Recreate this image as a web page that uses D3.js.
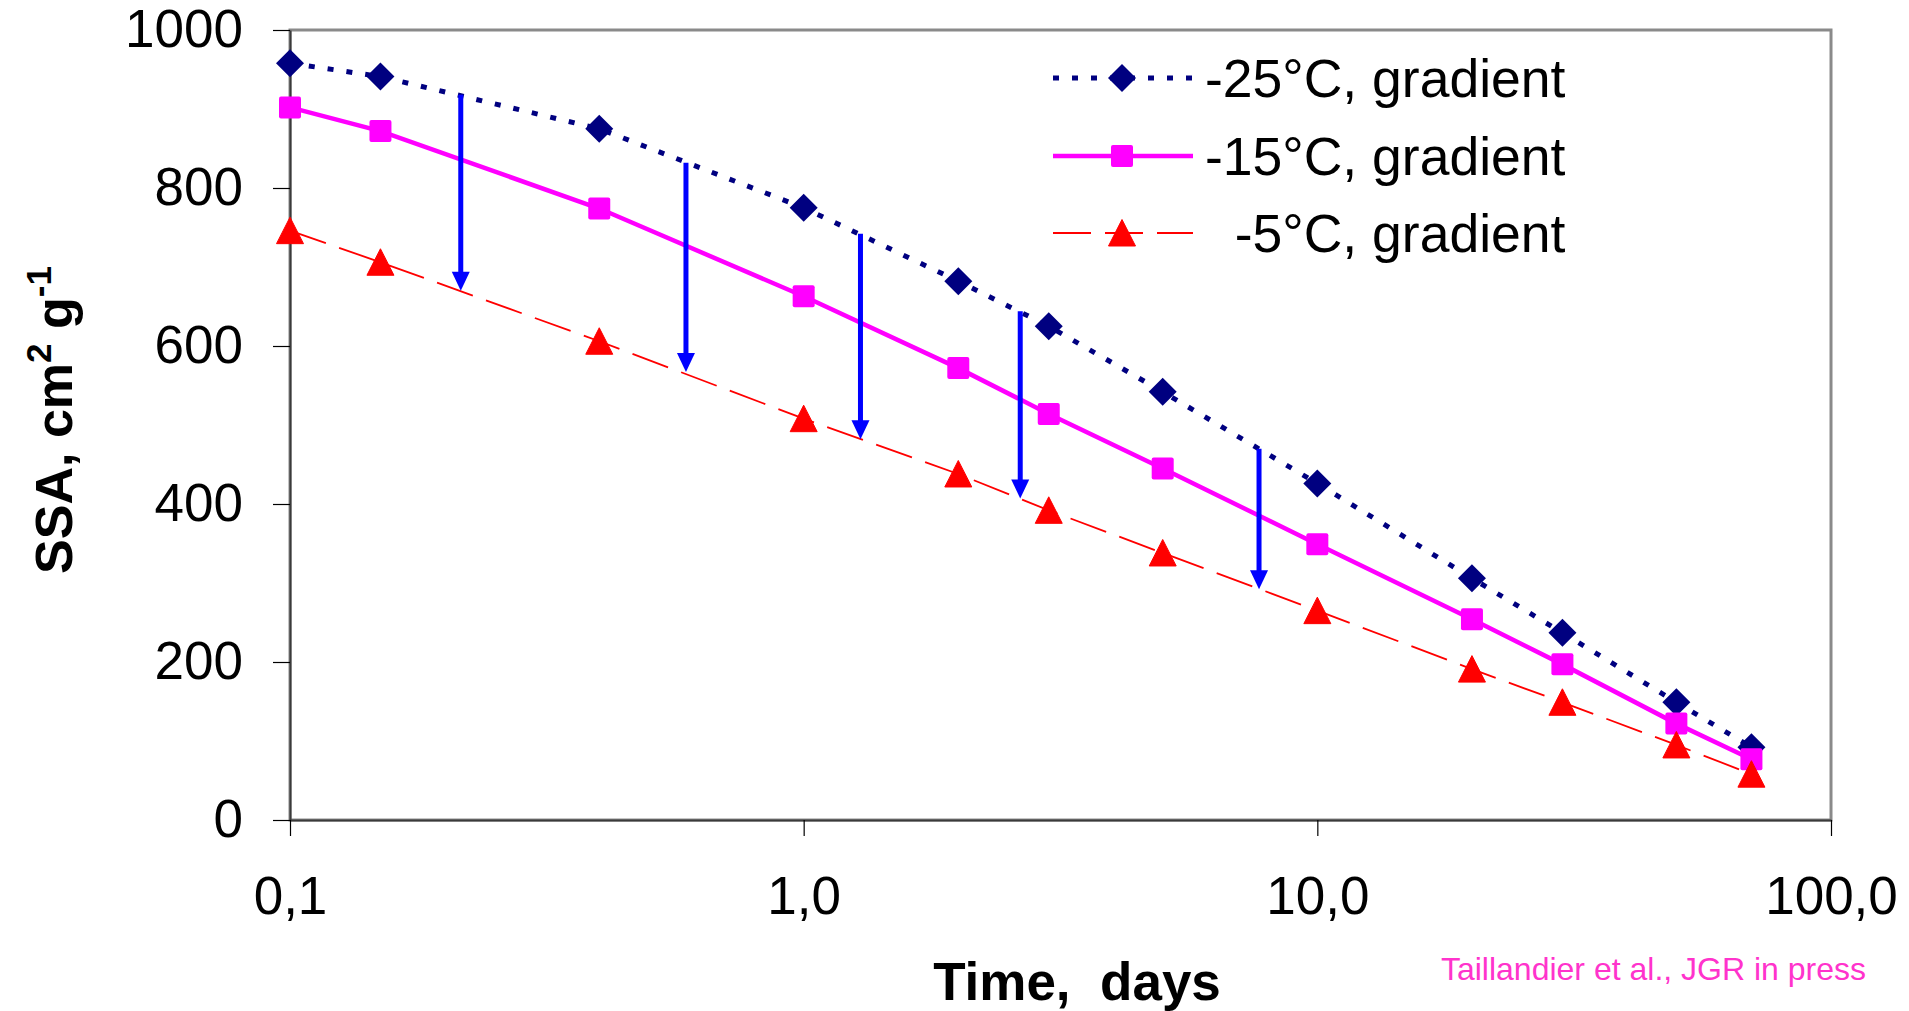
<!DOCTYPE html>
<html>
<head>
<meta charset="utf-8">
<script src="https://cdn.jsdelivr.net/npm/d3@7"></script>
<style>
  body { margin: 0; background: #fff; }
  text { font-family: "Liberation Sans", Arial, sans-serif; }
</style>
</head>
<body>
<div id="chart"></div>
<script>
// time in days (log axis)
var days = [0.1, 0.15, 0.4, 1, 2, 3, 5, 10, 20, 30, 50, 70];

// SSA, cm2 g-1
var ssa25 = [958, 941, 875, 775, 682, 625, 542, 426, 306, 237, 149, 92];
var ssa15 = [902, 872, 774, 663, 572, 514, 445, 349, 254, 197, 122, 77];
var ssa5  = [746, 706, 606, 508, 438, 392, 338, 265, 191, 149, 95, 58];

var seriesNames = ["-25°C, gradient", "-15°C, gradient", "  -5°C, gradient"];

// blue arrows between -25 and -5 curves
var arrowDays = [0.215, 0.59, 1.29, 2.64, 7.7];
var arrowTop = [918, 832, 742, 644, 470];
var arrowBottom = [670, 567, 482, 407, 292];

var xTicks = [0.1, 1, 10, 100];
var yTicks = [0, 200, 400, 600, 800, 1000];

var width = 1909, height = 1011;
var margin = {top: 30, right: 78, bottom: 191, left: 290};

var svg = d3.select("#chart").append("svg")
    .attr("width", width)
    .attr("height", height);

svg.append("rect").attr("width", width).attr("height", height).attr("fill", "#fff");

var x = d3.scaleLog()
    .domain([0.1, 100])
    .range([margin.left, width - margin.right]);

var y = d3.scaleLinear()
    .domain([0, 1000])
    .range([height - margin.bottom, margin.top]);

var locale = d3.formatLocale({decimal: ",", thousands: ".", grouping: [3], currency: ["", ""]});
var fmtX = locale.format(".1f");

// plot area frame
svg.append("rect")
    .attr("x", x(0.1)).attr("y", y(1000))
    .attr("width", x(100) - x(0.1))
    .attr("height", y(0) - y(1000))
    .attr("fill", "none")
    .attr("stroke", "#8a8a8a")
    .attr("stroke-width", 3);

// axes
var yAxis = svg.append("g")
    .attr("transform", "translate(" + x(0.1) + ",0)")
    .call(d3.axisLeft(y).tickValues(yTicks).tickFormat(d3.format("d")).tickSize(17).tickSizeOuter(0).tickPadding(30));

var xAxis = svg.append("g")
    .attr("transform", "translate(0," + y(0) + ")")
    .call(d3.axisBottom(x).tickValues(xTicks).tickFormat(fmtX).tickSize(16).tickSizeOuter(0).tickPadding(40));

[yAxis, xAxis].forEach(function(a) {
    a.select(".domain").attr("stroke", "#3a3a3a").attr("stroke-width", 2);
    a.selectAll(".tick line").attr("stroke", "#000").attr("stroke-width", 1.2);
    a.selectAll(".tick text")
        .attr("fill", "#000")
        .style("font-family", '"Liberation Sans", Arial, sans-serif')
        .style("font-size", "53px");
});

// series lines
var line = d3.line()
    .x(function(d) { return x(d[0]); })
    .y(function(d) { return y(d[1]); });

var pts25 = days.map(function(d, i) { return [d, ssa25[i]]; });
var pts15 = days.map(function(d, i) { return [d, ssa15[i]]; });
var pts5 = days.map(function(d, i) { return [d, ssa5[i]]; });

svg.append("path").datum(pts5)
    .attr("d", line).attr("fill", "none")
    .attr("stroke", "#ff0000").attr("stroke-width", 1.8)
    .attr("stroke-dasharray", "38,14");

svg.append("path").datum(pts15)
    .attr("d", line).attr("fill", "none")
    .attr("stroke", "#ff00ff").attr("stroke-width", 4.5);

svg.append("path").datum(pts25)
    .attr("d", line).attr("fill", "none")
    .attr("stroke", "#000080").attr("stroke-width", 5)
    .attr("stroke-dasharray", "6,13");

// arrows
var arrows = svg.append("g");
arrowDays.forEach(function(d, i) {
    var ax = x(d), y0 = y(arrowTop[i]), y1 = y(arrowBottom[i]);
    arrows.append("line")
        .attr("x1", ax).attr("x2", ax)
        .attr("y1", y0).attr("y2", y1 - 12)
        .attr("stroke", "#0000ff").attr("stroke-width", 5);
    arrows.append("path")
        .attr("d", "M" + (ax - 9) + "," + (y1 - 19) + "L" + (ax + 9) + "," + (y1 - 19) + "L" + ax + "," + y1 + "Z")
        .attr("fill", "#0000ff");
});

// markers
function diamond(g, cx, cy) {
    g.append("path")
        .attr("d", "M0,-14L14,0L0,14L-14,0Z")
        .attr("transform", "translate(" + cx + "," + cy + ")")
        .attr("fill", "#000080");
}
function square(g, cx, cy) {
    g.append("rect")
        .attr("x", cx - 11).attr("y", cy - 11)
        .attr("width", 22).attr("height", 22)
        .attr("rx", 2)
        .attr("fill", "#ff00ff");
}
function triangle(g, cx, cy) {
    g.append("path")
        .attr("d", "M0,-13.5L13.5,13L-13.5,13Z")
        .attr("transform", "translate(" + cx + "," + cy + ")")
        .attr("fill", "#ff0000")
        .attr("stroke", "#ff0000").attr("stroke-width", 1).attr("stroke-linejoin", "round");
}

var marks = svg.append("g");
pts25.forEach(function(p) { diamond(marks, x(p[0]), y(p[1])); });
pts15.forEach(function(p) { square(marks, x(p[0]), y(p[1])); });
pts5.forEach(function(p) { triangle(marks, x(p[0]), y(p[1])); });

// legend
var legend = svg.append("g");
var legY = [78, 156, 233];
var legX0 = 1053, legX1 = 1193, legM = 1122, legT = 1205;

legend.append("line").attr("x1", legX0).attr("x2", legX1).attr("y1", legY[0]).attr("y2", legY[0])
    .attr("stroke", "#000080").attr("stroke-width", 5).attr("stroke-dasharray", "6,13");
diamond(legend, legM, legY[0]);
legend.append("line").attr("x1", legX0).attr("x2", legX1).attr("y1", legY[1]).attr("y2", legY[1])
    .attr("stroke", "#ff00ff").attr("stroke-width", 4.5);
square(legend, legM, legY[1]);
legend.append("line").attr("x1", legX0).attr("x2", legX1).attr("y1", legY[2]).attr("y2", legY[2])
    .attr("stroke", "#ff0000").attr("stroke-width", 1.8).attr("stroke-dasharray", "38,14");
triangle(legend, legM, legY[2]);

seriesNames.forEach(function(n, i) {
    legend.append("text")
        .attr("x", legT).attr("y", legY[i])
        .attr("dy", "0.35em")
        .attr("xml:space", "preserve")
        .style("white-space", "pre")
        .style("font-size", "53.5px")
        .text(n);
});

// axis titles
svg.append("text")
    .attr("x", 1077).attr("y", 1000)
    .attr("text-anchor", "middle")
    .style("white-space", "pre")
    .style("font-size", "53px").style("font-weight", "bold")
    .text("Time,  days");

var yt = svg.append("text")
    .attr("transform", "translate(72,420) rotate(-90)")
    .attr("text-anchor", "middle")
    .style("font-size", "52px").style("font-weight", "bold");
yt.append("tspan").text("SSA, cm");
yt.append("tspan").attr("dy", -21).style("font-size", "35px").text("2");
yt.append("tspan").attr("dy", 21).text(" g");
yt.append("tspan").attr("dy", -21).style("font-size", "35px").text("-1");

// citation
svg.append("text")
    .attr("x", 1866).attr("y", 980)
    .attr("text-anchor", "end")
    .attr("fill", "#ff33cc")
    .style("font-size", "32px")
    .text("Taillandier et al., JGR in press");
</script>
</body>
</html>
